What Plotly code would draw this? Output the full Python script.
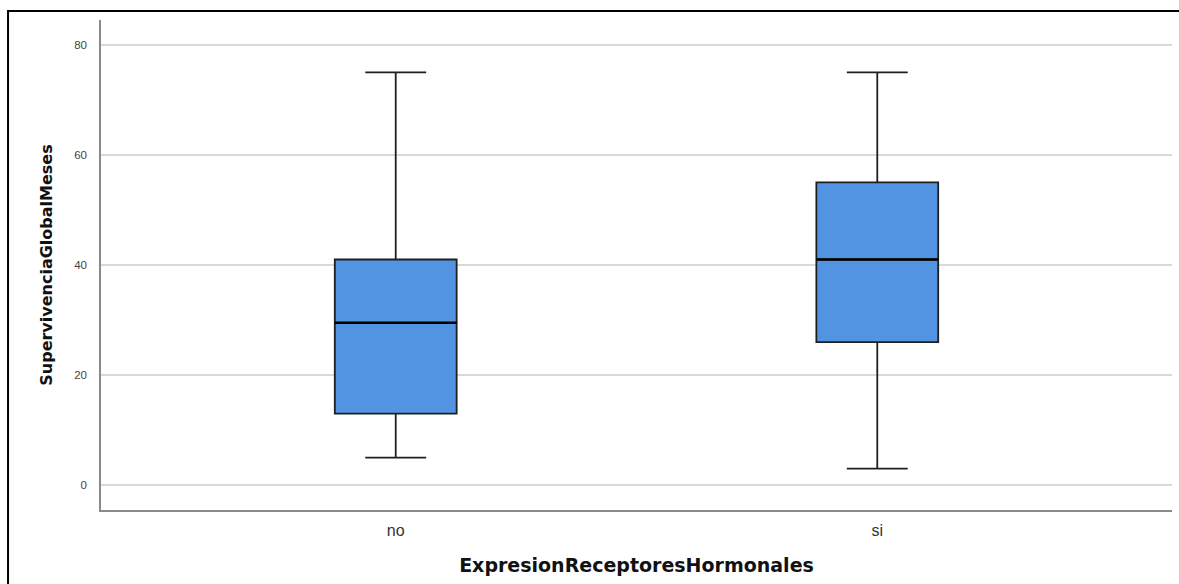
import plotly.graph_objects as go

categories = ["no", "si"]
q1 = [13, 26]
median = [29.5, 41]
q3 = [41, 55]
lower = [5, 3]
upper = [75, 75]
y_ticks = [0, 20, 40, 60, 80]

box_width = 0.253
positions = list(range(len(categories)))

fig = go.Figure()
fig.add_trace(go.Box(
    x=positions, q1=q1, median=median, q3=q3,
    lowerfence=lower, upperfence=upper,
    fillcolor="#5294E2", line=dict(color="#1f1f1f", width=1.8),
    whiskerwidth=0.5, width=box_width, boxpoints=False, showlegend=False,
    hoverinfo="skip",
))
# thicker median line overlays
for p, m in zip(positions, median):
    fig.add_trace(go.Scatter(
        x=[p - box_width / 2, p + box_width / 2], y=[m, m], mode="lines",
        line=dict(color="#000000", width=2.6), showlegend=False, hoverinfo="skip",
    ))

fig.update_layout(
    width=1179, height=584,
    margin=dict(l=101, r=7, t=20, b=74),
    paper_bgcolor="white", plot_bgcolor="white",
    font=dict(family="Liberation Sans, Arial, sans-serif", color="#222"),
    xaxis=dict(
        range=[-0.612, 1.612], tickvals=positions, ticktext=categories,
        showgrid=False, showline=True, zeroline=False,
        linecolor="#8a8a8a", linewidth=1.5, ticks="", ticklabelstandoff=5,
        tickfont=dict(size=16, color="#333"),
        title=dict(text="<b>ExpresionReceptoresHormonales</b>",
                   font=dict(size=19, color="#111",
                             family="DejaVu Sans, Liberation Sans, sans-serif"),
                   standoff=21),
    ),
    yaxis=dict(
        range=[-4.5, 84.5], tickvals=y_ticks, showgrid=True,
        gridcolor="#d9d9d9", gridwidth=1.5, zeroline=False,
        showline=True, linecolor="#8a8a8a", linewidth=1.5, ticks="",
        ticklabelstandoff=10,
        tickfont=dict(size=11.5, color="#444"),
        title=dict(text="<b>SupervivenciaGlobalMeses</b>",
                   font=dict(size=16, color="#111",
                             family="DejaVu Sans, Liberation Sans, sans-serif"),
                   standoff=18),
    ),
    shapes=[dict(type="rect", xref="paper", yref="paper",
                 x0=-0.0868, x1=1.02, y0=-0.25, y1=1.0184,
                 line=dict(color="black", width=2), layer="below")],
)

fig.write_html("out.html")
